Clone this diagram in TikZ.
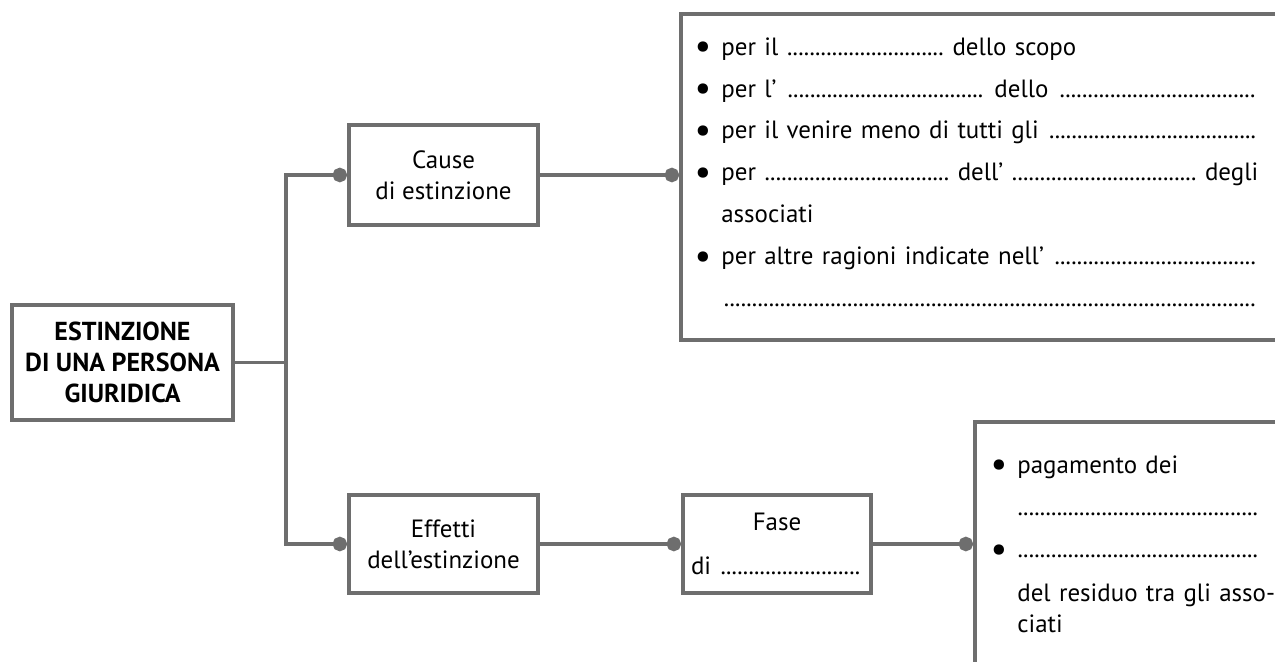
\documentclass[tikz,border=0pt]{standalone}
\usepackage{fontspec}
\setmainfont{PT Sans}
\usetikzlibrary{arrows.meta}

\definecolor{linegray}{RGB}{110,110,110}
\newcommand{\punti}{\cleaders\hbox to 0.112cm{\hss.\hss}\hfill}
\newcommand{\riga}[2]{\leavevmode\hbox to #1{#2}}
\newcommand{\bul}{\leavevmode\llap{\raisebox{-0.07cm}{\fontsize{21}{21}\selectfont\textbullet}\hspace{0.2cm}}}

\begin{document}
\begin{tikzpicture}[x=0.02cm,y=-0.02cm]
	\tikzstyle{every node}+=[inner sep=0pt]
	\tikzstyle{box}=[draw=linegray, line width=2.2pt, fill=white, align=center, font=\fontsize{14.2}{17.6}\selectfont]
	\tikzstyle{frame}=[draw=linegray, line width=2.2pt]
	\tikzstyle{link}=[draw=linegray, line width=2.2pt]
	\tikzstyle{bead}=[-{Circle[length=0.29cm]}]
	\useasboundingbox (0,0) rectangle (1275,662);
	\clip (0,0) rectangle (1275,662);
	% boxes
	\node [box, minimum width=4.42cm, minimum height=2.3cm, font=\fontsize{14.8}{17.8}\selectfont\bfseries] (root) at (122.5,362.5) {ESTINZIONE\\DI UNA PERSONA\\GIURIDICA};
	\node [box, minimum width=3.78cm, minimum height=2cm] (cause) at (443.5,175) {Cause\\di estinzione};
	\node [box, minimum width=3.78cm, minimum height=1.96cm] (effects) at (443.5,544) {Effetti\\dell’estinzione};
	\node [box, minimum width=3.76cm, minimum height=1.96cm] (fase) at (777,544) {Fase\\[7.4pt]\riga{3.44cm}{di \punti}};
	% open frames on the right
	\node [frame, minimum width=12.18cm, minimum height=6.52cm] (causeframe) at (985.5,177) {};
	\node [frame, minimum width=6.3cm, minimum height=5.56cm] (effectframe) at (1132.5,561) {};
	\node [anchor=north west, text width=10.74cm, align=left, font=\fontsize{14.2}{23.9}\selectfont] (causes) at (721,37) {%
		\bul\riga{7.1cm}{per il \punti{} dello scopo}\\
		\bul\riga{10.74cm}{per l’ \punti{} dello \punti}\\
		\bul\riga{10.74cm}{per il venire meno di tutti gli \punti}\\
		\bul\riga{10.74cm}{per \punti{} dell’ \punti{} degli}\\
		associati\\
		\bul\riga{10.74cm}{per altre ragioni indicate nell’ \punti}\\
		\riga{10.74cm}{\punti}};
	\node [anchor=north west, text width=4.82cm, align=left, font=\fontsize{14.2}{17.6}\selectfont] (payments) at (1017,455) {%
		\bul pagamento dei\\[0.24cm]
		\riga{4.82cm}{\punti}\\[0.22cm]
		\bul\riga{4.82cm}{\punti}\\[0.26cm]
		\mbox{del residuo tra gli asso-}\\
		ciati};
	% connectors
	\coordinate (fork) at (286,362.5);
	\draw [link] (root.east) -- (fork);
	\draw [link, bead] (fork) |- (cause.west);
	\draw [link, bead] (fork) |- (effects.west);
	\draw [link, bead] (cause.east) -- (cause.east -| causeframe.west);
	\draw [link, bead] (effects.east) -- (fase.west);
	\draw [link, bead] (fase.east) -- (fase.east -| effectframe.west);
\end{tikzpicture}
\end{document}
